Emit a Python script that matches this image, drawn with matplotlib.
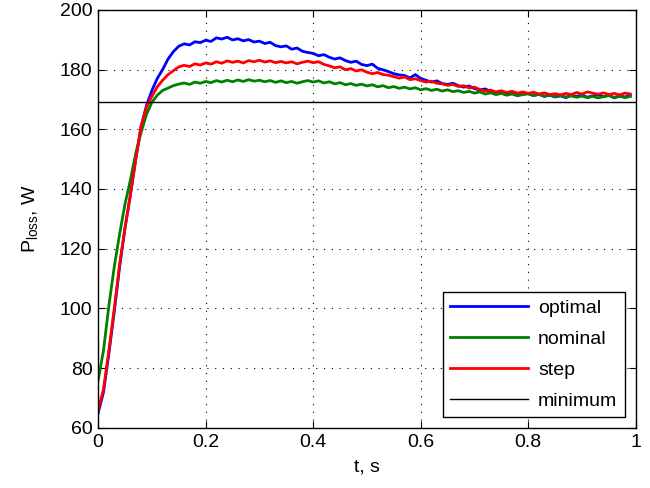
import numpy as np
import matplotlib
matplotlib.use('Agg')
import matplotlib.pyplot as plt

plt.rcParams['font.family'] = ['Liberation Sans', 'DejaVu Sans']

# time axis, s
t = [round(0.01 * i, 2) for i in range(100)]

optimal = [
    65, 72, 85, 99, 114, 127, 138, 150, 161, 168,
    173, 177, 180, 183.5, 186, 187.8, 188.6, 188.2, 189.3, 189.0,
    189.8, 189.4, 190.6, 190.2, 190.8, 189.9, 190.3, 189.6, 190.0, 189.2,
    189.5, 188.7, 189.1, 188.0, 187.6, 187.9, 186.8, 187.2, 186.1, 185.7,
    185.4, 184.6, 185.0, 184.1, 183.5, 183.9, 183.0, 182.4, 182.8, 181.7,
    181.3, 181.8, 180.4, 179.9, 179.3, 178.6, 178.2, 178.0, 177.2, 178.3,
    177.0, 176.4, 175.8, 176.2, 175.3, 175.0, 175.4, 174.6, 174.1, 174.5,
    173.6, 173.2, 173.5, 172.7, 172.3, 172.6, 171.9, 172.2, 171.5, 171.8,
    171.9, 171.3, 171.7, 171.0, 171.4, 170.8, 171.2, 170.6, 171.3, 171.0,
    171.5, 170.7, 171.2, 171.6, 170.9, 171.4, 170.5, 171.1, 170.8, 171.3,
]

nominal = [
    76, 86, 101, 114, 125, 135, 143, 152, 159, 165,
    169, 171.4, 173.0, 173.8, 174.6, 175.1, 175.5, 175.0, 175.8, 175.4,
    176.0, 175.6, 176.3, 175.8, 176.4, 175.9, 176.5, 176.0, 176.6, 176.1,
    176.4, 175.9, 176.3, 175.7, 176.2, 175.6, 176.0, 175.4, 175.9, 176.3,
    175.8, 176.2, 175.5, 175.9, 175.2, 175.6, 174.9, 175.3, 174.7, 175.1,
    174.5, 174.9, 174.2, 174.6, 173.9, 174.3, 173.7, 174.1, 173.5, 173.9,
    173.2, 173.6, 173.0, 173.4, 172.8, 173.2, 172.6, 172.9, 172.3, 172.7,
    172.1, 172.5, 171.8, 172.2, 171.6, 172.0, 171.4, 171.8, 171.2, 171.6,
    171.9, 171.3, 171.7, 171.1, 171.5, 170.9, 171.3, 170.8, 171.2, 170.7,
    171.1, 170.6, 171.0, 170.5, 170.9, 171.3, 170.7, 171.1, 170.6, 171.0,
]

step = [
    66, 73, 86, 100, 115, 127, 138, 150, 161, 167.5,
    171, 174.2, 176.4, 178.3, 179.6, 180.9, 181.4, 181.0, 181.9, 181.5,
    182.2, 181.8, 182.6, 182.1, 182.9, 182.4, 182.8, 182.2, 183.0, 182.6,
    183.1, 182.5, 182.9, 182.3, 182.7, 182.2, 182.6, 181.9, 182.4, 182.8,
    182.3, 182.6, 181.7, 181.2, 180.6, 180.9, 179.9, 180.3, 179.5, 179.9,
    179.1, 178.6, 179.0, 178.3, 178.1, 177.6, 177.1, 177.5, 176.6, 176.9,
    176.3, 175.8, 176.1, 175.4, 175.2, 174.7, 175.0, 174.3, 174.6, 173.8,
    174.1, 173.3, 172.8, 173.1, 172.5, 172.9, 172.3, 172.7, 172.1, 172.5,
    172.0, 172.4, 171.8, 172.2, 171.6, 171.9, 171.5, 172.0, 171.6, 172.3,
    171.8, 172.5, 172.1, 171.7, 172.2, 171.6, 172.0, 171.5, 172.1, 171.8,
]

p_min = 169

fig = plt.figure(figsize=(6.5, 4.88), dpi=100)
ax = fig.add_axes([0.151, 0.123, 0.827, 0.857])

ax.plot(t, optimal, color='#0000ff', linewidth=2, label='optimal')
ax.plot(t, nominal, color='#008000', linewidth=2, label='nominal')
ax.plot(t, step, color='#ff0000', linewidth=2, label='step')
ax.axhline(p_min, color='black', linewidth=1, label='minimum')

ax.set_xlim(0, 1)
ax.set_ylim(60, 200)
ax.set_xticks([0, 0.2, 0.4, 0.6, 0.8, 1])
ax.set_xticklabels(['0', '0.2', '0.4', '0.6', '0.8', '1'])
ax.set_yticks(range(60, 201, 20))

ax.grid(True, color='black', linestyle=(0, (1, 6)), linewidth=0.8)
ax.tick_params(direction='in', top=True, right=True, labelsize=14, length=5, pad=4)
for s in ax.spines.values():
    s.set_linewidth(1)

ax.set_xlabel('t, s', fontsize=14, labelpad=6)
ax.set_ylabel(r'$\mathregular{P_{loss}}$, W', fontsize=14, labelpad=14)

leg = ax.legend(loc='lower right', fontsize=14, handlelength=4.0,
                handletextpad=0.5, fancybox=False, edgecolor='black',
                framealpha=1, borderaxespad=0.55, labelspacing=0.68)
leg.get_frame().set_linewidth(1)

plt.savefig('out.png', dpi=100)
